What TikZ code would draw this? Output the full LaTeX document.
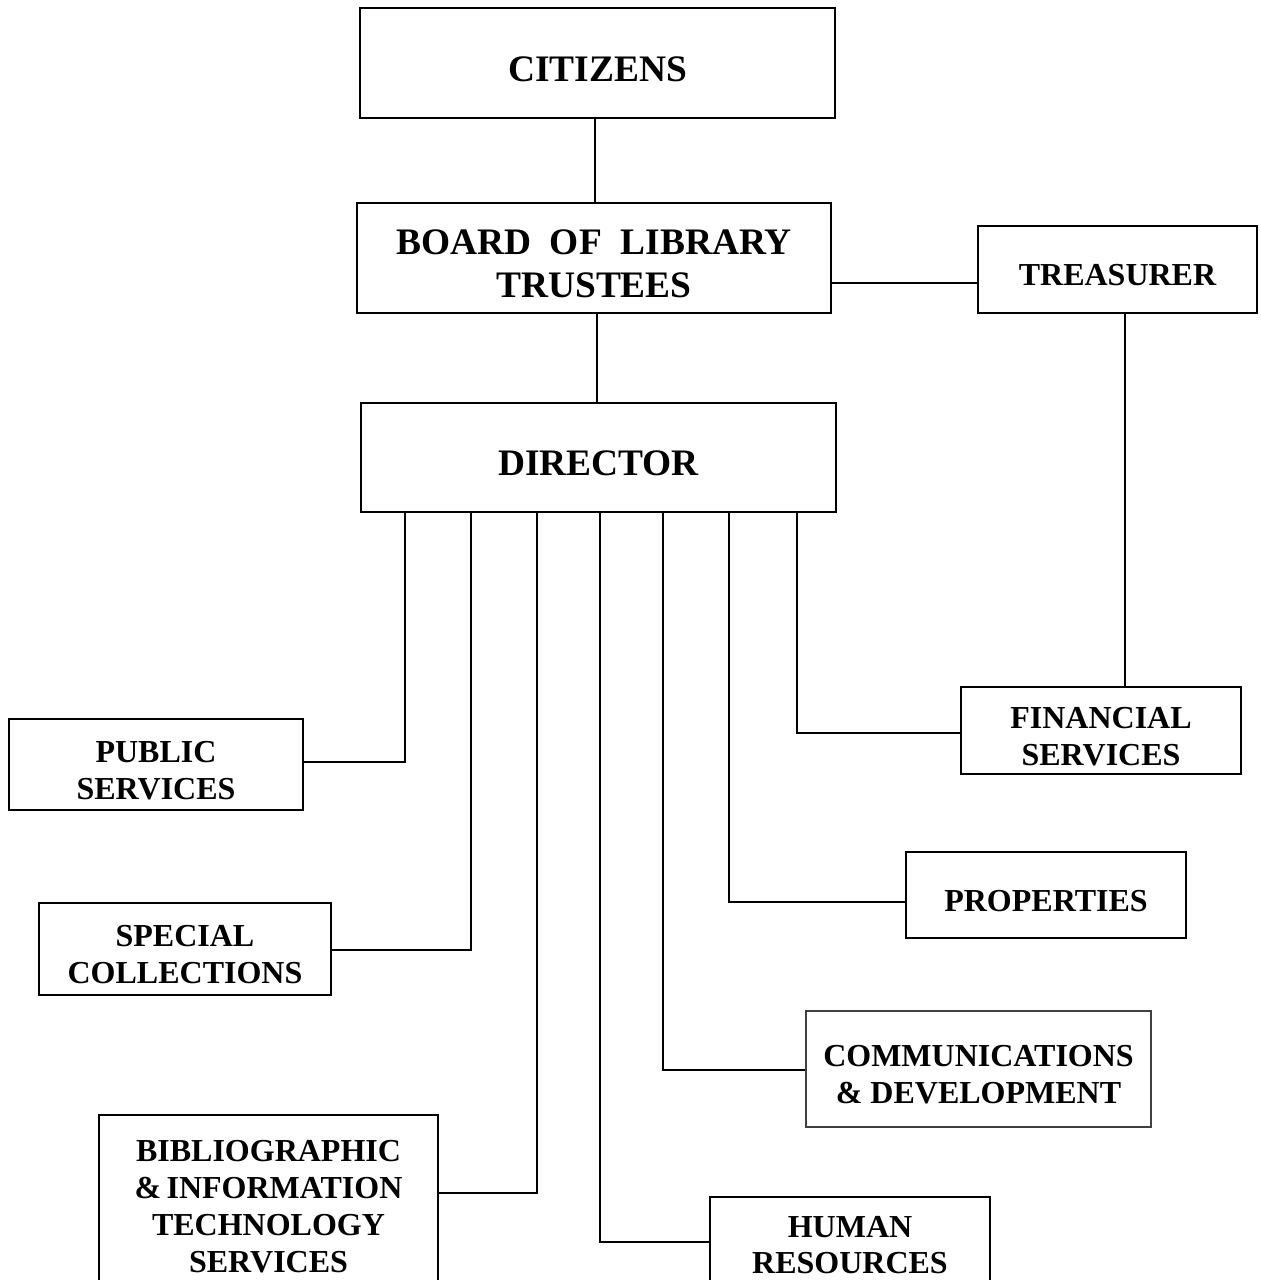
\documentclass[tikz,border=0pt]{standalone}
\usepackage{fontspec}
\setmainfont{Liberation Serif}
\begin{document}
\begin{tikzpicture}[x=0.5pt,y=-0.5pt,
  box/.style={draw=black, line width=1.2pt, inner sep=0pt},
  lab/.style={align=center, inner sep=0pt, yshift=-3pt, font=\bfseries\fontsize{16}{18.5}\selectfont},
  biglab/.style={lab, font=\bfseries\fontsize{18.7}{21.5}\selectfont},
  link/.style={draw=black, line width=1.2pt}]
\useasboundingbox (0,0) rectangle (1261,1280);
\clip (0,0) rectangle (1261,1280);
\fill[white] (0,0) rectangle (1261,1280);
% nodes
\node[box, minimum width=237.5pt, minimum height=55pt, label={[biglab]center:CITIZENS}] (cit) at (597.5,63) {};
\node[box, minimum width=237pt, minimum height=55pt, label={[biglab]center:{BOARD\ \ OF\ \ LIBRARY\\TRUSTEES}}] (board) at (594,258) {};
\node[box, minimum width=139.5pt, minimum height=43.5pt, label={[lab]center:TREASURER}] (treas) at (1117.5,269.5) {};
\node[box, minimum width=237.5pt, minimum height=54.5pt, label={[biglab]center:DIRECTOR}] (dir) at (598.5,457.5) {};
\node[box, minimum width=147pt, minimum height=45.5pt, label={[lab]center:{PUBLIC\\SERVICES}}] (pub) at (156,764.5) {};
\node[box, minimum width=146pt, minimum height=46pt, label={[lab]center:{SPECIAL\\COLLECTIONS}}] (spec) at (185,949) {};
\node[box, minimum width=169.5pt, minimum height=92.5pt, label={[lab, yshift=3.5pt]center:{BIBLIOGRAPHIC\\\&\,INFORMATION\\TECHNOLOGY\\SERVICES}}] (bib) at (268.5,1207.5) {};
\node[box, minimum width=140pt, minimum height=46.5pt, label={[lab, yshift=2pt, font=\bfseries\fontsize{16}{18}\selectfont]center:{HUMAN\\RESOURCES}}] (hum) at (850,1243.5) {};
\node[box, draw=black!75, line width=0.8pt, minimum width=172.5pt, minimum height=58pt, label={[lab]center:{COMMUNICATIONS\\\& DEVELOPMENT}}] (comm) at (978.5,1069) {};
\node[box, minimum width=140pt, minimum height=43pt, label={[lab]center:PROPERTIES}] (prop) at (1046,895) {};
\node[box, minimum width=140pt, minimum height=43.5pt, label={[lab]center:{FINANCIAL\\SERVICES}}] (fin) at (1101,730.5) {};
% connectors
\draw[link] (cit.south -| 595,0) -- (board.north -| 595,0);
\draw[link] (board.south -| 597,0) -- (dir.north -| 597,0);
\draw[link] (board.east |- 0,283) -- (treas.west |- 0,283);
\draw[link] (treas.south -| 1125,0) -- (fin.north -| 1125,0);
\draw[link] (dir.south -| 405,0) |- (pub.east |- 0,762);
\draw[link] (dir.south -| 471,0) |- (spec.east |- 0,950);
\draw[link] (dir.south -| 537,0) |- (bib.east |- 0,1193);
\draw[link] (dir.south -| 600,0) |- (hum.west |- 0,1242);
\draw[link] (dir.south -| 663,0) |- (comm.west |- 0,1070);
\draw[link] (dir.south -| 729,0) |- (prop.west |- 0,902);
\draw[link] (dir.south -| 797,0) |- (fin.west |- 0,733);
\end{tikzpicture}
\end{document}
